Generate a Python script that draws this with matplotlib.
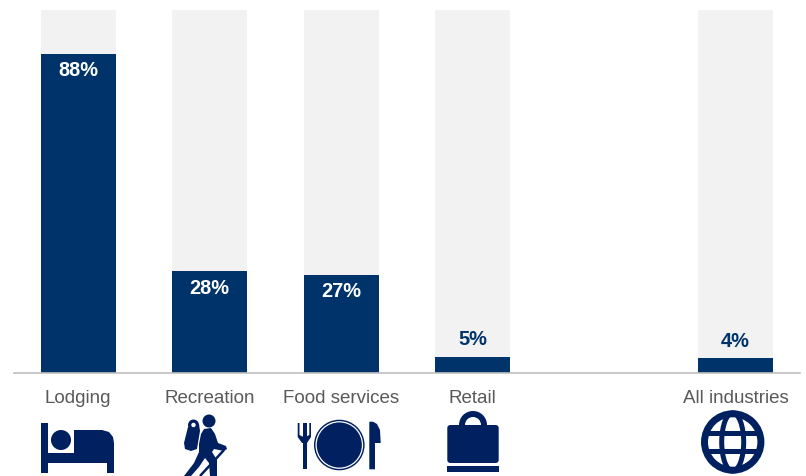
import matplotlib
matplotlib.use("Agg")
import matplotlib.pyplot as plt
import matplotlib.patches as mpatches

plt.rcParams['font.family'] = ['Liberation Sans', 'DejaVu Sans']

categories = ["Lodging", "Recreation", "Food services", "Retail", "All industries"]
positions = [0, 1, 2, 3, 5]
shares = [88, 28, 27, 4.5, 4]
share_labels = ["88%", "28%", "27%", "5%", "4%"]
label_inside = [True, True, True, False, False]

BAR_COL = '#00336A'
ICON_COL = '#002060'
W, H = 806, 476


def draw_bed(ax):
    ax.add_patch(mpatches.Rectangle((41, 423), 7, 50, color=ICON_COL, lw=0))
    ax.add_patch(mpatches.Rectangle((41, 453), 73, 10, color=ICON_COL, lw=0))
    ax.add_patch(mpatches.Rectangle((107, 453), 7, 20, color=ICON_COL, lw=0))
    ax.add_patch(mpatches.Circle((61, 440), 10, color=ICON_COL, lw=0))
    ax.add_patch(mpatches.Polygon([(74, 430), (102, 430), (109, 432), (113, 437), (114, 443),
                                   (114, 454), (74, 454)], color=ICON_COL, lw=0))


def draw_hiker(ax):
    ax.add_patch(mpatches.Circle((209, 421), 6.5, color=ICON_COL, lw=0))
    # rucksack
    ax.add_patch(mpatches.Polygon([(188, 427), (199, 424), (200, 431), (197, 449), (191, 451),
                                   (185, 449), (184, 443)], color=ICON_COL, lw=0))
    ax.add_patch(mpatches.Circle((193.5, 425), 5.5, color=ICON_COL, lw=0))
    ax.add_patch(mpatches.Circle((193.5, 425), 2.2, color='white', lw=0))
    # body and legs
    ax.add_patch(mpatches.Polygon([(204, 429), (211, 428), (215, 434), (218, 443), (226, 446),
                                   (227, 449), (224, 451), (214, 449), (212, 452), (217, 460),
                                   (217, 476), (210, 476), (209, 463), (205, 458),
                                   (199, 467), (191, 476), (184, 476), (194, 463), (199, 452),
                                   (199, 444), (201, 434)], color=ICON_COL, lw=0))
    # walking stick
    ax.plot([224, 200], [450, 476], color=ICON_COL, lw=1.8, solid_capstyle='butt')


def draw_cutlery(ax):
    ax.add_patch(mpatches.Rectangle((302.7, 423), 4, 46, color=ICON_COL, lw=0))
    ax.add_patch(mpatches.Polygon([(297.7, 423), (299.5, 423), (299.5, 435), (303.5, 437), (303.5, 423),
                                   (305.5, 423), (305.5, 437), (309.3, 435), (309.3, 423), (311, 423),
                                   (311, 437), (307, 443), (302, 443), (297.7, 437)], color=ICON_COL, lw=0))
    ax.add_patch(mpatches.Circle((339.3, 445), 25.3, color=ICON_COL, lw=0))
    ax.add_patch(mpatches.Circle((339.3, 445), 23.2, fill=False, ec='white', lw=0.9))
    ax.add_patch(mpatches.Polygon([(369.3, 421.7), (373, 421.7), (377, 424), (380, 430), (380.7, 443),
                                   (375, 443), (375, 469.3), (369.3, 469.3)], color=ICON_COL, lw=0))


def draw_bag(ax):
    ax.add_patch(mpatches.Wedge((473, 425), 14, 180, 360, width=6, color=ICON_COL, lw=0))
    ax.add_patch(mpatches.FancyBboxPatch((447.3, 425), 51.4, 38, boxstyle="round,pad=0,rounding_size=3",
                                         color=ICON_COL, lw=0))
    ax.add_patch(mpatches.Rectangle((447.3, 466), 51.4, 6, color=ICON_COL, lw=0))


def draw_globe(ax):
    cx, cy = 732.7, 442
    ax.add_patch(mpatches.Circle((cx, cy), 31.7, color=ICON_COL, lw=0))
    ax.add_patch(mpatches.Circle((cx, cy), 24.7, color='white', lw=0))
    ax.add_patch(mpatches.Ellipse((cx, cy), 22, 58, fill=False, ec=ICON_COL, lw=3.6))
    ax.plot([cx - 28, cx + 28], [cy - 9.2, cy - 9.2], color=ICON_COL, lw=3.6, solid_capstyle='butt')
    ax.plot([cx - 28, cx + 28], [cy + 9.2, cy + 9.2], color=ICON_COL, lw=3.6, solid_capstyle='butt')


fig = plt.figure(figsize=(W / 100, H / 100), dpi=100)
ax = fig.add_axes([14 / W, 1 - 373 / H, 786 / W, 363 / H])

ax.bar(positions, [100] * len(positions), width=0.57, color='#F2F2F2', zorder=1)
ax.bar(positions, shares, width=0.57, color=BAR_COL, zorder=2)

for pos, val, lab, inside in zip(positions, shares, share_labels, label_inside):
    ax.annotate(lab, (pos, val), xytext=(0, -12 if inside else 12), textcoords='offset points',
                ha='center', va='center', color='white' if inside else BAR_COL,
                fontsize=14.4, fontweight='bold', zorder=3)

ax.set_xlim(-0.487, 5.49)
ax.set_ylim(0, 100)
ax.set_yticks([])
ax.set_xticks(positions)
ax.set_xticklabels(categories, fontsize=13.5, color='#595959')
ax.tick_params(axis='x', length=0, pad=12.5)
for side in ['top', 'left', 'right']:
    ax.spines[side].set_visible(False)
ax.spines['bottom'].set_color('#BFBFBF')
ax.spines['bottom'].set_linewidth(1.2)

# icons are drawn in pixel coordinates on a layer over the whole figure
icons = fig.add_axes([0, 0, 1, 1])
icons.set_xlim(0, W)
icons.set_ylim(H, 0)
icons.axis('off')
draw_bed(icons)
draw_hiker(icons)
draw_cutlery(icons)
draw_bag(icons)
draw_globe(icons)

fig.savefig('out.png', dpi=100)
